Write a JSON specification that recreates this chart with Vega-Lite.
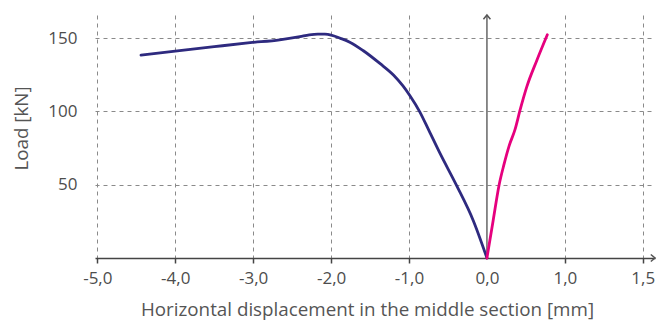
{
  "$schema": "https://vega.github.io/schema/vega-lite/v6.json",
  "width": 560,
  "height": 243,
  "autosize": {"type": "none"},
  "padding": {"left": 95, "top": 15, "right": 12, "bottom": 63},
  "background": "white",
  "config": {"view": {"stroke": null}, "font": "Open Sans"},
  "datasets": {
    "curves": [
      {"series": "blue", "i": 1, "x": -4.44, "y": 138.3},
      {"series": "blue", "i": 2, "x": -4.0, "y": 141.1},
      {"series": "blue", "i": 3, "x": -3.5, "y": 144.1},
      {"series": "blue", "i": 4, "x": -3.04, "y": 146.8},
      {"series": "blue", "i": 5, "x": -2.66, "y": 148.8},
      {"series": "blue", "i": 6, "x": -2.4, "y": 151.0},
      {"series": "blue", "i": 7, "x": -2.28, "y": 152.2},
      {"series": "blue", "i": 8, "x": -2.17, "y": 152.7},
      {"series": "blue", "i": 9, "x": -2.08, "y": 152.6},
      {"series": "blue", "i": 10, "x": -2.0, "y": 152.0},
      {"series": "blue", "i": 11, "x": -1.88, "y": 149.8},
      {"series": "blue", "i": 12, "x": -1.76, "y": 147.2},
      {"series": "blue", "i": 13, "x": -1.59, "y": 141.5},
      {"series": "blue", "i": 14, "x": -1.37, "y": 132.5},
      {"series": "blue", "i": 15, "x": -1.2, "y": 124.8},
      {"series": "blue", "i": 16, "x": -1.08, "y": 117.5},
      {"series": "blue", "i": 17, "x": -0.99, "y": 110.8},
      {"series": "blue", "i": 18, "x": -0.86, "y": 99.5},
      {"series": "blue", "i": 19, "x": -0.745, "y": 87.0},
      {"series": "blue", "i": 20, "x": -0.6, "y": 71.1},
      {"series": "blue", "i": 21, "x": -0.39, "y": 49.5},
      {"series": "blue", "i": 22, "x": -0.176, "y": 25.6},
      {"series": "blue", "i": 23, "x": 0.0, "y": 0.0},
      {"series": "pink", "i": 1, "x": 0.0, "y": 0.0},
      {"series": "pink", "i": 2, "x": 0.08, "y": 25.6},
      {"series": "pink", "i": 3, "x": 0.155, "y": 49.5},
      {"series": "pink", "i": 4, "x": 0.22, "y": 64.0},
      {"series": "pink", "i": 5, "x": 0.285, "y": 76.5},
      {"series": "pink", "i": 6, "x": 0.36, "y": 87.5},
      {"series": "pink", "i": 7, "x": 0.424, "y": 100.6},
      {"series": "pink", "i": 8, "x": 0.51, "y": 116.5},
      {"series": "pink", "i": 9, "x": 0.64, "y": 134.7},
      {"series": "pink", "i": 10, "x": 0.775, "y": 152.2}
    ],
    "axisline": [
      {"x": 0, "y": 0, "y2": 165.7}
    ],
    "arrows": [
      {"x": 2.157, "y": 0, "shape": "M-1.2,-1L0,0L-1.2,1"},
      {"x": 0, "y": 165.7, "shape": "M-1,1.2L0,0L1,1.2"}
    ]
  },
  "layer": [
    {
      "data": {"name": "axisline"},
      "mark": {"type": "rule", "color": "#666666", "strokeWidth": 1.5},
      "encoding": {
        "x": {"field": "x", "type": "quantitative"},
        "y": {"field": "y", "type": "quantitative"},
        "y2": {"field": "y2"}
      }
    },
    {
      "data": {"name": "curves"},
      "mark": {"type": "line", "strokeWidth": 2.8, "strokeCap": "round", "strokeJoin": "round", "interpolate": "monotone"},
      "encoding": {
        "x": {
          "field": "x",
          "type": "quantitative",
          "scale": {"domain": [-5.03, 2.157], "nice": false, "zero": false},
          "axis": {
            "values": [-5, -4, -3, -2, -1, 0, 1, 2],
            "labelExpr": "datum.value == 2 ? '1,5' : replace((datum.value < 0 ? '-' : '') + format(abs(datum.value), '.1f'), '.', ',')",
            "title": "Horizontal displacement in the middle section [mm]",
            "domainColor": "#444444",
            "domainWidth": 1.5,
            "tickColor": {"condition": {"test": "datum.value == 0", "value": "transparent"}, "value": "#444444"},
            "tickSize": 5,
            "tickWidth": 1.5,
            "labelFontSize": 17,
            "labelColor": "#4d4d4d",
            "labelPadding": 7,
            "labelFlush": false,
            "labelOverlap": false,
            "titleFontSize": 18.8,
            "titleFontWeight": "normal",
            "titleColor": "#555555",
            "titlePadding": 14,
            "titleX": 272,
            "titleAlign": "center",
            "grid": true,
            "gridDash": [4, 4],
            "gridColor": "#8a8a8a",
            "gridWidth": 1,
            "gridOpacity": {"condition": {"test": "datum.value == 0", "value": 0}, "value": 1}
          }
        },
        "y": {
          "field": "y",
          "type": "quantitative",
          "scale": {"domain": [0, 165.7], "nice": false},
          "axis": {
            "values": [50, 100, 150],
            "title": "Load [kN]",
            "domain": false,
            "ticks": false,
            "labelPadding": 18,
            "labelFontSize": 17,
            "labelColor": "#4d4d4d",
            "titleFontSize": 18.8,
            "titleFontWeight": "normal",
            "titleColor": "#555555",
            "titlePadding": 16,
            "titleY": 113,
            "titleAlign": "center",
            "grid": true,
            "gridDash": [4, 4],
            "gridColor": "#8a8a8a",
            "gridWidth": 1
          }
        },
        "color": {
          "field": "series",
          "type": "nominal",
          "scale": {"domain": ["blue", "pink"], "range": ["#2e2a7f", "#e6007e"]},
          "legend": null
        },
        "order": {"field": "i", "type": "quantitative"}
      }
    },
    {
      "data": {"name": "arrows"},
      "mark": {"type": "point", "filled": false, "color": "#555555", "strokeWidth": 1.5, "size": 49, "opacity": 1},
      "encoding": {
        "x": {"field": "x", "type": "quantitative"},
        "y": {"field": "y", "type": "quantitative"},
        "shape": {"field": "shape", "type": "nominal", "scale": null, "legend": null}
      }
    }
  ]
}
